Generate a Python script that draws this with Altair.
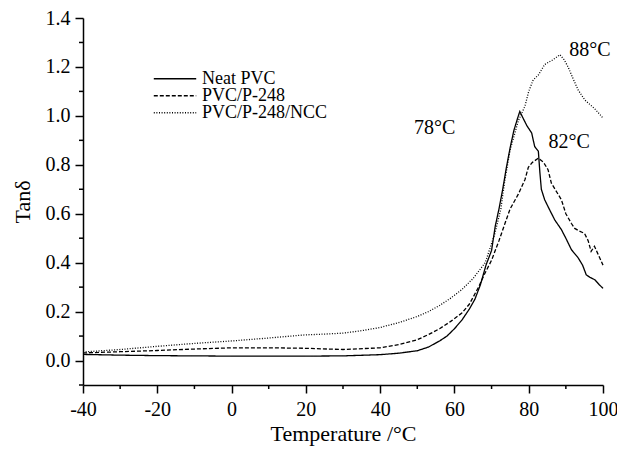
import altair as alt
import pandas as pd

series_names = ["Neat PVC", "PVC/P-248", "PVC/P-248/NCC"]

neat_T = [-40, -30, -20, -10, 0, 10, 20, 30, 40, 45, 50, 53, 56, 58, 60, 62, 64, 65.5, 67, 68.5,
          70, 71, 72, 73, 74, 75, 76, 77, 77.6, 78.5, 79.5, 80.8, 81.6, 82.6, 83, 83.4, 84.3, 85.5,
          87, 88.8, 90, 91.5, 93.3, 94.5, 95.5, 96.5, 97.8, 99, 100]
neat_V = [0.025, 0.022, 0.02, 0.019, 0.018, 0.018, 0.018, 0.019, 0.024, 0.03, 0.04, 0.055, 0.08,
          0.1, 0.13, 0.165, 0.21, 0.25, 0.31, 0.39, 0.45, 0.55, 0.62, 0.7, 0.79, 0.87, 0.94, 0.99,
          1.018, 0.99, 0.96, 0.93, 0.875, 0.855, 0.77, 0.7, 0.657, 0.62, 0.575, 0.535, 0.5, 0.453,
          0.42, 0.39, 0.35, 0.34, 0.33, 0.31, 0.295]

p248_T = [-40, -30, -20, -10, 0, 10, 20, 30, 40, 45, 50, 53, 56, 59, 62, 64, 66.5, 68, 70, 72,
          73.6, 75, 77.2, 79, 79.9, 81, 82.6, 84, 85.2, 86.1, 87.9, 88.8, 90, 91.5, 92.4, 93.5,
          95, 96, 96.8, 97.7, 98.5, 100]
p248_V = [0.031, 0.036, 0.041, 0.047, 0.052, 0.052, 0.05, 0.045, 0.052, 0.065, 0.085, 0.106,
          0.13, 0.16, 0.194, 0.23, 0.3, 0.35, 0.41, 0.49, 0.56, 0.62, 0.68, 0.74, 0.79, 0.81,
          0.827, 0.81, 0.78, 0.725, 0.68, 0.657, 0.6, 0.56, 0.54, 0.53, 0.52, 0.49, 0.446, 0.467,
          0.44, 0.39]

ncc_T = [-40, -30, -20, -10, 0, 10, 16, 20, 25, 30, 35, 40, 45, 50, 53, 56, 59, 62, 65, 68.3,
         70.9, 72.5, 73.6, 75, 77.2, 79, 80, 81.2, 82.6, 84.3, 86.6, 88.4, 89.5, 90.6, 92, 93.3,
         95.1, 97.7, 99.5, 100]
ncc_V = [0.035, 0.045, 0.058, 0.07, 0.08, 0.092, 0.1, 0.105, 0.108, 0.112, 0.122, 0.135, 0.155,
         0.18, 0.2, 0.225, 0.255, 0.29, 0.335, 0.4, 0.52, 0.62, 0.74, 0.86, 0.98, 1.04, 1.1,
         1.147, 1.167, 1.21, 1.23, 1.25, 1.23, 1.2, 1.15, 1.106, 1.065, 1.03, 1.0, 0.99]

ann_text = ["78°C", "88°C", "82°C"]
ann_T = [54.7, 96.5, 90.9]
ann_V = [0.951, 1.27, 0.894]

x_major = [-40, -20, 0, 20, 40, 60, 80, 100]
x_minor = [-30, -10, 10, 30, 50, 70, 90]
y_major = [0.0, 0.2, 0.4, 0.6, 0.8, 1.0, 1.2, 1.4]
y_minor = [-0.1, 0.1, 0.3, 0.5, 0.7, 0.9, 1.1, 1.3]

rows = []
for name, T, V in zip(series_names, [neat_T, p248_T, ncc_T], [neat_V, p248_V, ncc_V]):
    for t, v in zip(T, V):
        rows.append({"series": name, "T": t, "v": v})
df = pd.DataFrame(rows)
ann = pd.DataFrame({"label": ann_text, "T": ann_T, "v": ann_V})
xminor_df = pd.DataFrame({"T": x_minor})
yminor_df = pd.DataFrame({"v": y_minor})

FONT = "Liberation Serif"
xscale = alt.Scale(domain=[-40, 100], nice=False, zero=False)
yscale = alt.Scale(domain=[-0.1, 1.4], nice=False, zero=False)

lines = alt.Chart(df).mark_line(color="black", strokeWidth=1.3).encode(
    x=alt.X("T:Q", scale=xscale,
            axis=alt.Axis(values=x_major, title="Temperature /°C", orient="bottom",
                          labelExpr="'' + datum.value",
                          labelOverlap=False, labelBound=False, labelFlush=False,
                          tickSize=8, labelPadding=6, titleY=55, titleBaseline="alphabetic")),
    y=alt.Y("v:Q", scale=yscale,
            axis=alt.Axis(values=y_major, title="Tanδ", orient="left", format=".1f",
                          labelOverlap=False, labelBound=False, labelFlush=False,
                          tickSize=8, labelPadding=5, titlePadding=11)),
    strokeDash=alt.StrokeDash("series:N", sort=series_names,
                              scale=alt.Scale(domain=series_names,
                                              range=[[1, 0], [4, 2], [1, 1.6]]),
                              legend=alt.Legend(title=None, orient="none", legendX=70, legendY=53,
                                                symbolType="stroke", symbolSize=1800,
                                                symbolStrokeWidth=1.3, symbolStrokeColor="black",
                                                labelFont=FONT, labelFontSize=18,
                                                labelColor="black", rowPadding=-2,
                                                clipHeight=15.5,
                                                labelOffset=5, symbolOffset=0)),
    order="T:Q",
)

texts = alt.Chart(ann).mark_text(font=FONT, fontSize=20, color="black").encode(
    x="T:Q",
    y="v:Q",
    text="label:N",
)

xminor = alt.Chart(xminor_df).mark_tick(orient="vertical", size=4, thickness=1.5,
                                        color="black", yOffset=2, opacity=1).encode(
    x=alt.X("T:Q", scale=xscale),
    y=alt.datum(-0.1, scale=yscale),
)

yminor = alt.Chart(yminor_df).mark_tick(orient="horizontal", size=4, thickness=1.5,
                                        color="black", xOffset=-2, opacity=1).encode(
    y=alt.Y("v:Q", scale=yscale),
    x=alt.datum(-40, scale=xscale),
)

chart = alt.layer(lines, texts, xminor, yminor).properties(
    width=520, height=367,
    autosize=alt.AutoSizeParams(type="none"),
    padding={"left": 75, "top": 10, "right": 14, "bottom": 63},
).configure_axis(
    grid=False, domainColor="black", domainWidth=1.5, tickColor="black", tickWidth=1.5,
    labelFont=FONT, labelFontSize=20, labelColor="black",
    titleFont=FONT, titleFontSize=22, titleFontWeight="normal", titleColor="black",
).configure_view(stroke=None)

chart.save("out.html", embed_options={"renderer": "svg", "actions": False})
